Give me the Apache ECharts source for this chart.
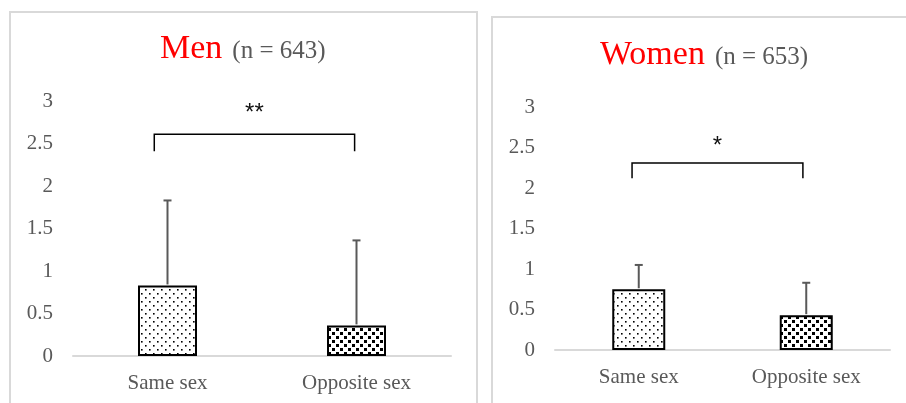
<!DOCTYPE html>
<html><head><meta charset="utf-8">
<script src="https://cdn.jsdelivr.net/npm/echarts@6/dist/echarts.min.js"></script>
<style>html,body{margin:0;padding:0;background:#fff}#c{width:906px;height:403px}</style>
</head><body><div id="c"></div>
<script>
// ---- data ----
var categories = ['Same sex', 'Opposite sex'];
var menMeans = [0.83, 0.36];
var menSD = [1.00, 1.00];
var womenMeans = [0.75, 0.43];
var womenSD = [0.30, 0.40];
var yTicks = [0, 0.5, 1, 1.5, 2, 2.5, 3];
// significance brackets: x as offset in category units, y in data units [leg bottom, top]
var menBracketX = [-0.07, 0.99];
var menBracketY = [2.41, 2.61];
var menStars = '**';
var menStarY = 2.86;
var womenBracketX = [-0.04, 0.98];
var womenBracketY = [2.12, 2.31];
var womenStars = '*';
var womenStarY = 2.52;

function pattern(tile, pts, size) {
  var c = document.createElement('canvas');
  c.width = tile; c.height = tile;
  var g = c.getContext('2d');
  g.fillStyle = '#fff'; g.fillRect(0, 0, tile, tile);
  g.fillStyle = '#000';
  pts.forEach(function (p) { g.fillRect(p[0], p[1], size, size); });
  return { image: c, repeat: 'repeat' };
}
var sparse = pattern(8, [[1, 1], [5, 5]], 1.6);
var dense = pattern(8, [[0, 0], [4, 4]], 3);

var labelColor = '#595959';
var serif = '"Liberation Serif", "Times New Roman", serif';

function grid(left, right, top, bottom) {
  return { left: left, right: right, top: top, bottom: bottom, containLabel: false };
}
function xAxis(gi) {
  return {
    type: 'category', gridIndex: gi, data: categories,
    axisLine: { lineStyle: { color: '#d9d9d9', width: 2 } },
    axisTick: { show: false },
    axisLabel: { color: labelColor, fontFamily: serif, fontSize: 21, margin: 17 }
  };
}
function yAxis(gi) {
  return {
    type: 'value', gridIndex: gi, min: 0, max: 3, interval: 0.5,
    axisLine: { show: false }, axisTick: { show: false }, splitLine: { show: false },
    axisLabel: { color: labelColor, fontFamily: serif, fontSize: 21, margin: 20,
      formatter: function (v) { return yTicks.indexOf(v) >= 0 ? String(v) : ''; } }
  };
}
function barSeries(gi, means, w) {
  return {
    type: 'bar', xAxisIndex: gi, yAxisIndex: gi, barWidth: w,
    data: means.map(function (m, i) {
      return { value: m, itemStyle: { color: i === 0 ? sparse : dense, borderColor: '#000', borderWidth: 2 } };
    }),
    silent: true
  };
}
function errSeries(gi, means, sds) {
  return {
    type: 'custom', xAxisIndex: gi, yAxisIndex: gi, z: 5,
    data: means.map(function (m, i) { return [i, m, m + sds[i]]; }),
    renderItem: function (params, api) {
      var p0 = api.coord([api.value(0), api.value(1)]);
      var p1 = api.coord([api.value(0), api.value(2)]);
      var st = { stroke: '#595959', lineWidth: 2 };
      return { type: 'group', children: [
        { type: 'line', shape: { x1: p0[0], y1: p0[1] - 1, x2: p1[0], y2: p1[1] }, style: st },
        { type: 'line', shape: { x1: p1[0] - 4, y1: p1[1], x2: p1[0] + 4, y2: p1[1] }, style: st }
      ] };
    }
  };
}
function bracketSeries(gi, bx, by, stars, starY) {
  return {
    type: 'custom', xAxisIndex: gi, yAxisIndex: gi, z: 6,
    data: [[0, 1, by[0], by[1], starY]],
    renderItem: function (params, api) {
      var band = api.size([1, 0])[0];
      var xl = api.coord([0, 0])[0] + bx[0] * band;
      var xr = api.coord([1, 0])[0] + (bx[1] - 1) * band;
      var yb = api.coord([0, api.value(2)])[1];
      var yt = api.coord([0, api.value(3)])[1];
      var ys = api.coord([0, api.value(4)])[1];
      return { type: 'group', children: [
        { type: 'polyline', shape: { points: [[xl, yb], [xl, yt], [xr, yt], [xr, yb]] },
          style: { stroke: '#000', lineWidth: 1.5, fill: null } },
        { type: 'text', x: (xl + xr) / 2, y: ys,
          style: { text: stars, fill: '#111', font: '24px "Liberation Sans", Arial, sans-serif', align: 'center', verticalAlign: 'middle' } }
      ] };
    }
  };
}

var titleRich = {
  a: { color: '#ff0000', fontFamily: serif, fontSize: 34, fontWeight: 'normal' },
  b: { color: labelColor, fontFamily: serif, fontSize: 25, fontWeight: 'normal', padding: [4, 0, 0, 5] }
};

var chart = echarts.init(document.getElementById('c'), null, { renderer: 'canvas' });
chart.setOption({
  animation: false,
  backgroundColor: '#fff',
  title: [
    { text: '{a|Men} {b|(n = 643)}', left: 160, top: 32, padding: 0, textStyle: { fontWeight: 'normal', rich: titleRich } },
    { text: '{a|Women} {b|(n = 653)}', left: 600, top: 38, padding: 0, textStyle: { fontWeight: 'normal', rich: titleRich } }
  ],
  graphic: [
    { type: 'rect', shape: { x: 10, y: 12, width: 467, height: 420 }, style: { stroke: '#d9d9d9', lineWidth: 2, fill: null }, silent: true },
    { type: 'rect', shape: { x: 492, y: 17, width: 430, height: 420 }, style: { stroke: '#d9d9d9', lineWidth: 2, fill: null }, silent: true }
  ],
  grid: [grid(73, 455, 101, 47), grid(555, 16, 107, 53)],
  xAxis: [xAxis(0), xAxis(1)],
  yAxis: [yAxis(0), yAxis(1)],
  series: [
    barSeries(0, menMeans, 59),
    errSeries(0, menMeans, menSD),
    bracketSeries(0, menBracketX, menBracketY, menStars, menStarY),
    barSeries(1, womenMeans, 53),
    errSeries(1, womenMeans, womenSD),
    bracketSeries(1, womenBracketX, womenBracketY, womenStars, womenStarY)
  ]
});
</script></body></html>
